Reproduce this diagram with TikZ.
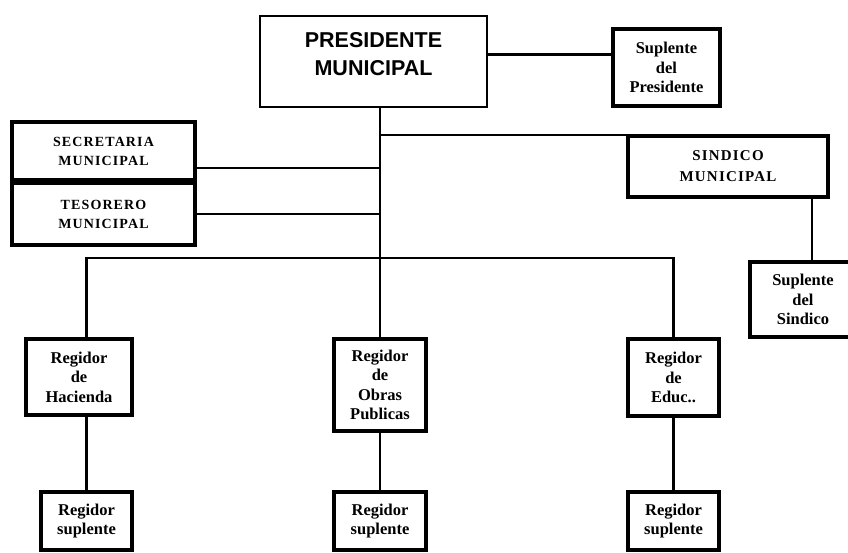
\documentclass[tikz,border=0pt]{standalone}
\usepackage{fontspec}
\setmainfont{Liberation Serif}
\newfontfamily\arialfont{Liberation Sans}
\newfontfamily\capsfont[LetterSpace=8]{Liberation Serif}
\usetikzlibrary{positioning}
\tikzset{x=1pt, y=-1pt,
  box/.style={draw, line width=4.5pt, inner sep=0pt, align=center,
    font=\fontsize{16.5}{19.5}\selectfont\bfseries},
  capsbox/.style={box, font=\fontsize{14}{19}\selectfont\capsfont\bfseries},
  link/.style={line width=2.8pt}}

\begin{document}
\begin{tikzpicture}
\useasboundingbox (0,0) rectangle (848,553);
				\node[draw, line width=2.5pt, inner sep=0pt, align=center, minimum width=227pt, minimum height=91pt, text depth=16pt,
				  font=\fontsize{21.5}{28}\selectfont\arialfont\bfseries] (pres) at (373.5,61.5) {PRESIDENTE\\MUNICIPAL};
				\node[box, minimum width=107pt, minimum height=77pt] (suppres) at (666.5,67.5) {Suplente\\del\\Presidente};

				\node[capsbox, minimum width=183pt, minimum height=58pt] (sec) at (103.5,151) {SECRETARIA\\MUNICIPAL};
				\node[capsbox, minimum width=183pt, minimum height=62pt] (tes) at (103.5,214) {TESORERO\\MUNICIPAL};
				\node[capsbox, font=\fontsize{15}{21}\selectfont\capsfont\bfseries, minimum width=200pt, minimum height=61pt] (sind) at (728,166.5) {SINDICO\\MUNICIPAL};
				\node[box, minimum width=106pt, minimum height=75pt] (supsin) at (803,299.5) {Suplente\\del\\Sindico};

				\node[box, minimum width=106pt, minimum height=76pt] (hac) at (79,377) {Regidor\\de\\Hacienda};
				\node[box, minimum width=92pt, minimum height=92pt] (obras) at (380,385) {Regidor\\de\\Obras\\Publicas};
				\node[box, minimum width=91pt, minimum height=77pt] (educ) at (673.5,377.5) {Regidor\\de\\Educ..};

				\node[box, minimum width=91pt, minimum height=58pt] (suph) at (86.5,521) {Regidor\\suplente};
				\node[box, minimum width=92pt, minimum height=58pt] (supo) at (380,521) {Regidor\\suplente};
				\node[box, minimum width=91pt, minimum height=58pt] (supe) at (673.5,521) {Regidor\\suplente};

				\coordinate (sb) at (380,135);
				\coordinate (bus) at (380,258);

				\path[draw, link]
				([yshift=7pt]pres.east) -- ([yshift=7pt]pres.east -| suppres.west)
				(pres.south -| obras.north) -- (obras.north)
				(sb) -- (sb -| sind.north west)
				([yshift=-17pt]sec.east) -- ([yshift=-17pt]sec.east -| obras.north)
				(tes.east) -- (tes.east -| obras.north)
				([xshift=84pt]sind.south) -- ([xshift=84pt]sind.south |- supsin.north)
				(suph.north |- hac.north) |- (bus) -| (educ.north)
				(suph.north |- hac.south) -- (suph.north)
				(obras.south) -- (supo.north)
				(educ.south) -- (supe.north);
			\end{tikzpicture}
\end{document}
